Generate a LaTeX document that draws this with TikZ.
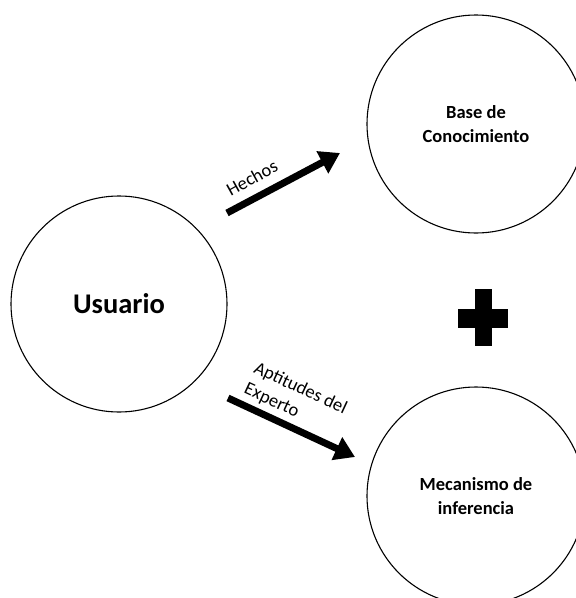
\documentclass[tikz,border=0pt]{standalone}
\usepackage{fontspec}
\setmainfont{Carlito}
\usetikzlibrary{arrows.meta}
\tikzset{
  bubble/.style={circle, draw=black, line width=1.1pt, minimum size=216pt, inner sep=0pt, align=center},
  bigarrow/.style={line width=7pt, -{Triangle[length=20pt,width=24pt]}},
  lbl/.style={inner sep=0pt, font=\fontsize{18.5}{23}\selectfont, align=left}
}
\begin{document}
\begin{tikzpicture}[x=1pt,y=-1pt]
\useasboundingbox (0,0) rectangle (576,598);
\clip (0,0) rectangle (576,598);
\node[bubble, font=\fontsize{28.5}{34}\selectfont\bfseries] (u) at (119,304) {Usuario};
\node[bubble, minimum size=218pt, font=\fontsize{18.5}{24}\selectfont\bfseries] (b) at (476,124) {Base de\\Conocimiento};
\node[bubble, minimum size=218pt, font=\fontsize{18.5}{24}\selectfont\bfseries] (m) at (476,496) {Mecanismo de\\inferencia};
\coordinate (h1) at (227,213);
\coordinate (h2) at (340,153);
\coordinate (a1) at (228,398);
\coordinate (a2) at (355,457);
\draw[bigarrow] (h1) -- (h2);
\draw[bigarrow] (a1) -- (a2);
\node[lbl, rotate=29] (hl) at (252,178) {Hechos};
\node[lbl, rotate=-25, anchor=west] (al) at (250,378) {Aptitudes del\\Experto};
\fill (475,289) rectangle (492,346);
\fill (458,309) rectangle (508,328);
\end{tikzpicture}
\end{document}
